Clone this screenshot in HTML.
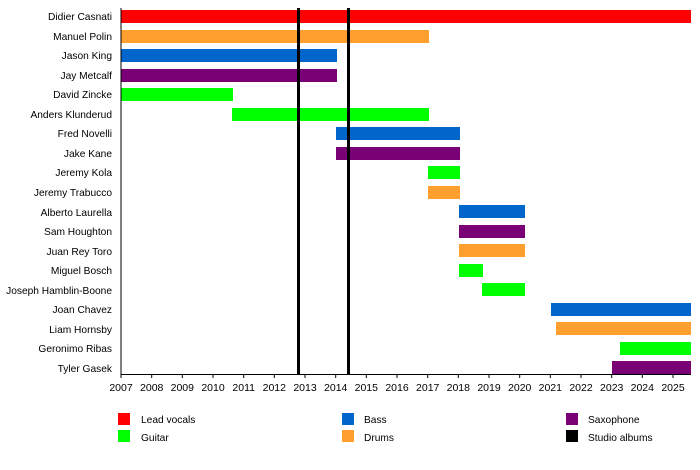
<!DOCTYPE html>
<html><head><meta charset="utf-8"><style>
body{margin:0;background:#fff}
svg{display:block;font-family:"Liberation Sans",Arial,sans-serif}
</style></head><body>
<svg width="700" height="470" xmlns="http://www.w3.org/2000/svg">
<g font-size="10.2" fill="#000" text-anchor="end">
<text x="112" y="20">Didier Casnati</text>
<text x="112" y="40">Manuel Polin</text>
<text x="112" y="59">Jason King</text>
<text x="112" y="79">Jay Metcalf</text>
<text x="112" y="98">David Zincke</text>
<text x="112" y="118">Anders Klunderud</text>
<text x="112" y="137">Fred Novelli</text>
<text x="112" y="157">Jake Kane</text>
<text x="112" y="176">Jeremy Kola</text>
<text x="112" y="196">Jeremy Trabucco</text>
<text x="112" y="216">Alberto Laurella</text>
<text x="112" y="235">Sam Houghton</text>
<text x="112" y="255">Juan Rey Toro</text>
<text x="112" y="274">Miguel Bosch</text>
<text x="112" y="294">Joseph Hamblin-Boone</text>
<text x="112" y="313">Joan Chavez</text>
<text x="112" y="333">Liam Hornsby</text>
<text x="112" y="352">Geronimo Ribas</text>
<text x="112" y="372">Tyler Gasek</text>
</g>
<g>
<rect x="121" y="10" width="570" height="13" fill="#ff0000"/>
<rect x="121" y="30" width="308" height="13" fill="#ff9f2f"/>
<rect x="121" y="49" width="216" height="13" fill="#0066cc"/>
<rect x="121" y="69" width="216" height="13" fill="#7a0075"/>
<rect x="121" y="88" width="112" height="13" fill="#00ff00"/>
<rect x="232" y="108" width="197" height="13" fill="#00ff00"/>
<rect x="336" y="127" width="124" height="13" fill="#0066cc"/>
<rect x="336" y="147" width="124" height="13" fill="#7a0075"/>
<rect x="428" y="166" width="32" height="13" fill="#00ff00"/>
<rect x="428" y="186" width="32" height="13" fill="#ff9f2f"/>
<rect x="459" y="205" width="66" height="13" fill="#0066cc"/>
<rect x="459" y="225" width="66" height="13" fill="#7a0075"/>
<rect x="459" y="244" width="66" height="13" fill="#ff9f2f"/>
<rect x="459" y="264" width="24" height="13" fill="#00ff00"/>
<rect x="482" y="283" width="43" height="13" fill="#00ff00"/>
<rect x="551" y="303" width="140" height="13" fill="#0066cc"/>
<rect x="556" y="322" width="135" height="13" fill="#ff9f2f"/>
<rect x="620" y="342" width="71" height="13" fill="#00ff00"/>
<rect x="612" y="361" width="79" height="13" fill="#7a0075"/>
</g>
<rect x="297" y="8" width="3" height="367" fill="#000"/>
<rect x="347" y="8" width="3" height="367" fill="#000"/>
<line x1="121" y1="8" x2="121" y2="375" stroke="#000" stroke-width="1"/>
<line x1="121" y1="374.5" x2="691" y2="374.5" stroke="#000" stroke-width="1"/>
<g stroke="#000">
<line x1="121.0" y1="374" x2="121.0" y2="378"/><line x1="151.7" y1="374" x2="151.7" y2="378"/><line x1="182.3" y1="374" x2="182.3" y2="378"/><line x1="213.0" y1="374" x2="213.0" y2="378"/><line x1="243.7" y1="374" x2="243.7" y2="378"/><line x1="274.3" y1="374" x2="274.3" y2="378"/><line x1="305.0" y1="374" x2="305.0" y2="378"/><line x1="335.7" y1="374" x2="335.7" y2="378"/><line x1="366.3" y1="374" x2="366.3" y2="378"/><line x1="397.0" y1="374" x2="397.0" y2="378"/><line x1="427.7" y1="374" x2="427.7" y2="378"/><line x1="458.3" y1="374" x2="458.3" y2="378"/><line x1="489.0" y1="374" x2="489.0" y2="378"/><line x1="519.7" y1="374" x2="519.7" y2="378"/><line x1="550.3" y1="374" x2="550.3" y2="378"/><line x1="581.0" y1="374" x2="581.0" y2="378"/><line x1="611.7" y1="374" x2="611.7" y2="378"/><line x1="642.3" y1="374" x2="642.3" y2="378"/><line x1="673.0" y1="374" x2="673.0" y2="378"/>
</g>
<g font-size="10.5" text-anchor="middle">
<text x="121" y="391">2007</text><text x="151.7" y="391">2008</text><text x="182.3" y="391">2009</text><text x="213" y="391">2010</text><text x="243.7" y="391">2011</text><text x="274.3" y="391">2012</text><text x="305" y="391">2013</text><text x="335.7" y="391">2014</text><text x="366.3" y="391">2015</text><text x="397" y="391">2016</text><text x="427.7" y="391">2017</text><text x="458.3" y="391">2018</text><text x="489" y="391">2019</text><text x="519.7" y="391">2020</text><text x="550.3" y="391">2021</text><text x="581" y="391">2022</text><text x="611.7" y="391">2023</text><text x="642.3" y="391">2024</text><text x="673" y="391">2025</text>
</g>
<g font-size="10.2">
<rect x="118" y="413" width="12" height="12" fill="#ff0000"/><text x="141" y="423">Lead vocals</text>
<rect x="118" y="430" width="12" height="12" fill="#00ff00"/><text x="141" y="441">Guitar</text>
<rect x="342" y="413" width="12" height="12" fill="#0066cc"/><text x="364" y="423">Bass</text>
<rect x="342" y="430" width="12" height="12" fill="#ff9f2f"/><text x="364" y="441">Drums</text>
<rect x="566" y="413" width="12" height="12" fill="#7a0075"/><text x="588" y="423">Saxophone</text>
<rect x="566" y="430" width="12" height="12" fill="#000"/><text x="588" y="441">Studio albums</text>
</g>
</svg>
</body></html>
